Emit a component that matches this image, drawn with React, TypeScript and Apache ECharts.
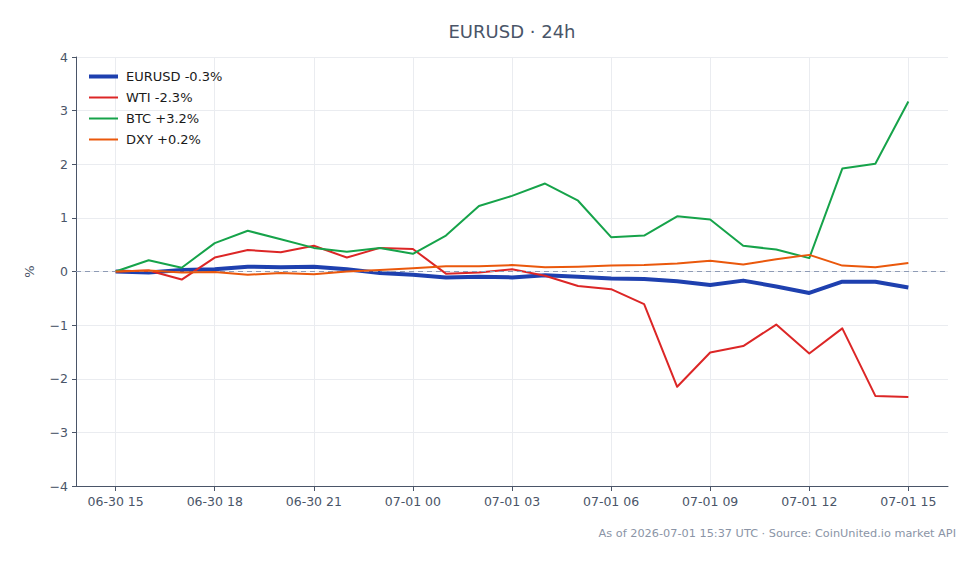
import React, { useEffect, useRef } from "react";
import * as echarts from "echarts";

// Hours elapsed since 2026-06-30 15:00 UTC, one point per hour
const hours = [0, 1, 2, 3, 4, 5, 6, 7, 8, 9, 10, 11, 12, 13, 14, 15, 16, 17, 18, 19, 20, 21, 22, 23, 24];

// Percent change from the start of the window
const eurusd = [0, -0.02, 0.03, 0.04, 0.09, 0.08, 0.09, 0.04, -0.03, -0.06, -0.11, -0.1, -0.11, -0.07, -0.1, -0.13, -0.14, -0.18, -0.25, -0.17, -0.28, -0.4, -0.19, -0.19, -0.3];
const wti = [0, 0.02, -0.15, 0.26, 0.4, 0.36, 0.48, 0.26, 0.44, 0.42, -0.04, -0.02, 0.04, -0.08, -0.27, -0.33, -0.61, -2.15, -1.51, -1.39, -0.99, -1.53, -1.06, -2.32, -2.34];
const btc = [0, 0.21, 0.07, 0.53, 0.76, 0.6, 0.44, 0.37, 0.44, 0.33, 0.67, 1.22, 1.41, 1.64, 1.32, 0.64, 0.67, 1.03, 0.97, 0.48, 0.41, 0.25, 1.92, 2.01, 3.17];
const dxy = [0, 0.02, -0.02, -0.01, -0.06, -0.03, -0.05, 0, 0.03, 0.06, 0.1, 0.1, 0.12, 0.08, 0.09, 0.11, 0.12, 0.15, 0.2, 0.13, 0.23, 0.31, 0.11, 0.08, 0.16];

const seriesNames = ["EURUSD -0.3%", "WTI -2.3%", "BTC +3.2%", "DXY +0.2%"];

// X tick positions (hours) and their labels
const tickHours = [0, 3, 6, 9, 12, 15, 18, 21, 24];
const tickLabels = ["06-30 15", "06-30 18", "06-30 21", "07-01 00", "07-01 03", "07-01 06", "07-01 09", "07-01 12", "07-01 15"];

const titleText = "EURUSD · 24h";
const footText = "As of 2026-07-01 15:37 UTC · Source: CoinUnited.io market API";

const FONT = "DejaVu Sans";

const pairs = (ys: number[]) => hours.map((h, i) => [h, ys[i]]);

export default function App() {
  const ref = useRef<HTMLDivElement>(null);

  useEffect(() => {
    document.body.style.margin = "0";
    if (!ref.current) return;
    const chart = echarts.init(ref.current, undefined, { renderer: "svg" });
    const colors = ["#1e40af", "#dc2626", "#16a34a", "#ea580c"];
    const widths = [4, 2, 2, 2];
    const values = [eurusd, wti, btc, dxy];

    chart.setOption({
      animation: false,
      textStyle: { fontFamily: FONT },
      grid: { left: 76, right: 32, top: 57, bottom: 78, containLabel: false },
      legend: {
        left: 87,
        top: 70,
        padding: 0,
        orient: "vertical",
        itemWidth: 29,
        itemHeight: 12,
        itemGap: 8,
        // line-only keys: hide the marker drawn on top of each key line
        itemStyle: { opacity: 0 },
        textStyle: { fontFamily: FONT, fontSize: 13, color: "#1a1a1a", padding: [0, 0, 0, 3] },
        data: seriesNames.map((n, i) => ({ name: n, lineStyle: { width: widths[i] } })),
      },
      xAxis: {
        type: "value",
        min: -1.2,
        max: 25.2,
        axisLine: { show: true, onZero: false, lineStyle: { color: "#4a5568", width: 1 } },
        axisTick: { show: true, length: 5, customValues: tickHours, lineStyle: { color: "#4a5568" } },
        axisLabel: {
          customValues: tickHours,
          margin: 9,
          fontFamily: FONT,
          fontSize: 12.5,
          color: "#4a5568",
          formatter: (v: number) => tickLabels[tickHours.indexOf(Math.round(v))] ?? "",
        },
        splitLine: { show: true, lineStyle: { color: "#eaecf0", width: 1 } },
      },
      yAxis: {
        type: "value",
        min: -4,
        max: 4,
        interval: 1,
        name: "%",
        nameLocation: "middle",
        nameGap: 40,
        nameRotate: 90,
        nameTextStyle: { fontFamily: FONT, fontSize: 13, color: "#4a5568" },
        axisLine: { show: true, onZero: false, lineStyle: { color: "#4a5568", width: 1 } },
        axisTick: { show: true, length: 4, lineStyle: { color: "#4a5568" } },
        axisLabel: {
          margin: 8,
          fontFamily: FONT,
          fontSize: 12.5,
          color: "#4a5568",
          formatter: (v: number) => String(v).replace("-", "\u2212"),
        },
        splitLine: { show: true, lineStyle: { color: "#eaecf0", width: 1 } },
      },
      series: [
        {
          name: "zero",
          type: "line",
          data: [],
          z: 1,
          silent: true,
          markLine: {
            silent: true,
            symbol: "none",
            label: { show: false },
            lineStyle: { type: [5, 4], color: "#8e9bb5", width: 1.2 },
            data: [{ yAxis: 0 }],
          },
        },
        ...seriesNames.map((n, i) => ({
          name: n,
          type: "line",
          data: pairs(values[i]),
          symbol: "none",
          z: 2 + i,
          color: colors[i],
          lineStyle: { width: widths[i], color: colors[i], join: "round" },
        })),
      ],
      graphic: [
        {
          type: "text",
          x: 512,
          y: 31,
          style: {
            text: titleText,
            font: `18px "${FONT}"`,
            fill: "#4a5568",
            textAlign: "center",
            textVerticalAlign: "middle",
          },
        },
        {
          type: "text",
          x: 956,
          y: 533,
          style: {
            text: footText,
            font: `11.3px "${FONT}"`,
            fill: "#8a94a6",
            textAlign: "right",
            textVerticalAlign: "middle",
          },
        },
      ],
    });

    return () => chart.dispose();
  }, []);

  return <div ref={ref} style={{ width: 980, height: 564 }} />;
}
